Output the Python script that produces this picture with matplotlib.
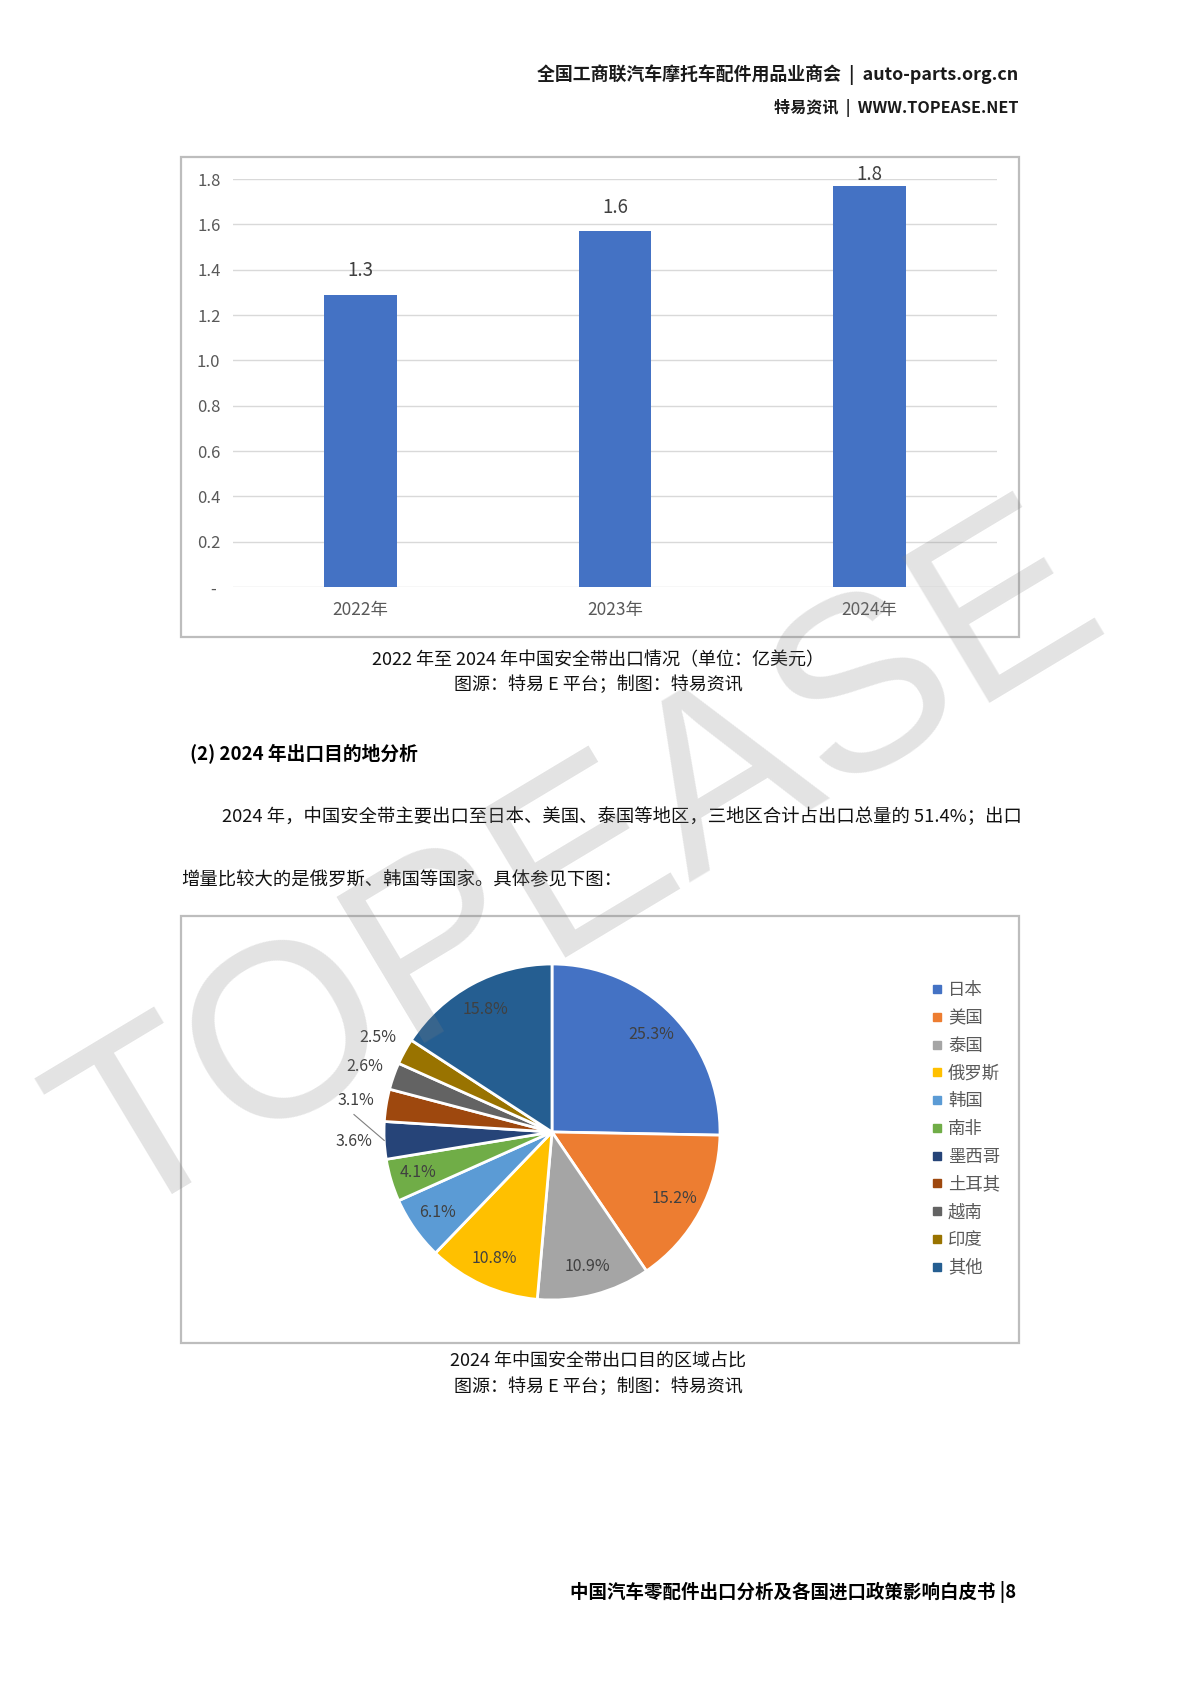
import numpy as np
import matplotlib.pyplot as plt
from matplotlib.patches import Rectangle
from matplotlib.lines import Line2D
from matplotlib.ticker import FuncFormatter

plt.rcParams['font.family'] = ['Noto Sans CJK SC', 'DejaVu Sans']

# - - - - bar chart data (亿美元) - - -
years = ['2022年', '2023年', '2024年']
export_value = [1.29, 1.57, 1.77]
value_labels = ['1.3', '1.6', '1.8']
y_ticks = [0, 0.2, 0.4, 0.6, 0.8, 1.0, 1.2, 1.4, 1.6, 1.8]

# - - - - pie chart data (%) - - -
regions = ['日本', '美国', '泰国', '俄罗斯', '韩国', '南非', '墨西哥', '土耳其', '越南', '印度', '其他']
shares = [25.3, 15.2, 10.9, 10.8, 6.1, 4.1, 3.6, 3.1, 2.6, 2.5, 15.8]
colors = ['#4472C4', '#ED7D31', '#A5A5A5', '#FFC000', '#5B9BD5', '#70AD47',
          '#264478', '#9E480E', '#636363', '#997300', '#255E91']
outside = ['墨西哥', '土耳其', '越南', '印度']
leader = ['墨西哥']

W, H = 1200, 1698


def box(x0, y0, x1, y1):
    # pixel box (top-left origin) -> figure fraction rect
    return [x0 / W, 1 - y1 / H, (x1 - x0) / W, (y1 - y0) / H]


def ptext(fig, x, y, s, **kw):
    fig.text(x / W, 1 - y / H, s, **kw)


def frame(fig, x0, y0, x1, y1):
    r = box(x0, y0, x1, y1)
    fig.add_artist(Rectangle((r[0], r[1]), r[2], r[3], transform=fig.transFigure,
                             fill=False, ec='#bdbdbd', lw=1.6))


def main():
    fig = plt.figure(figsize=(W / 100, H / 100), dpi=100)
    fig.patch.set_facecolor('white')

    # header
    ptext(fig, 1018, 75, '全国工商联汽车摩托车配件用品业商会  |  auto-parts.org.cn',
          ha='right', va='center', fontsize=12.9, color='#1a1a1a', weight='bold')
    ptext(fig, 1018, 108, '特易资讯  |  WWW.TOPEASE.NET',
          ha='right', va='center', fontsize=11.6, color='#1a1a1a', weight='bold')

    # bar chart
    frame(fig, 181, 157, 1019, 637)
    ax = fig.add_axes(box(233, 179, 997, 587))
    x = np.arange(len(years))
    ax.bar(x, export_value, width=0.285, color='#4472C4', zorder=2)
    for i, v in enumerate(export_value):
        ax.text(i, min(v + 0.105, 1.82), value_labels[i], ha='center', va='center',
                fontsize=13.5, color='#404040')
    ax.set_xlim(-0.5, 2.5)
    ax.set_ylim(0, 1.8)
    ax.set_xticks(x)
    ax.set_xticklabels(years)
    ax.set_yticks(y_ticks)
    ax.yaxis.set_major_formatter(FuncFormatter(lambda v, p: '- ' if v == 0 else '%.1f' % v))
    ax.yaxis.grid(True, color='#d9d9d9', lw=1)
    ax.set_axisbelow(True)
    for s in ax.spines.values():
        s.set_visible(False)
    ax.tick_params(axis='x', length=0, pad=10, labelsize=12.5, labelcolor='#595959')
    ax.tick_params(axis='y', length=0, pad=9, labelsize=12, labelcolor='#595959')

    ptext(fig, 598, 660, '2022 年至 2024 年中国安全带出口情况（单位：亿美元）',
          ha='center', va='center', fontsize=13, color='#111111')
    ptext(fig, 598, 685, '图源：特易 E 平台；制图：特易资讯',
          ha='center', va='center', fontsize=13, color='#111111')

    # section text
    ptext(fig, 190, 754, '(2) 2024 年出口目的地分析', ha='left', va='center',
          fontsize=13.5, weight='bold', color='#000000')
    ptext(fig, 222, 817, '2024 年，中国安全带主要出口至日本、美国、泰国等地区，三地区合计占出口总量的 51.4%；出口',
          ha='left', va='center', fontsize=13.2, color='#111111')
    ptext(fig, 181, 880, '增量比较大的是俄罗斯、韩国等国家。具体参见下图：',
          ha='left', va='center', fontsize=13.2, color='#111111')

    # pie chart
    frame(fig, 181, 916, 1019, 1343)
    ax2 = fig.add_axes(box(352, 932, 752, 1332))
    wedges, _ = ax2.pie(shares, colors=colors, startangle=90, counterclock=False,
                        wedgeprops=dict(edgecolor='white', linewidth=2))
    R = 200 / 168
    ax2.set_xlim(-R, R)
    ax2.set_ylim(-R, R)
    ax2.set_aspect('equal')
    ax2.axis('off')
    for w, name, s in zip(wedges, regions, shares):
        mid = np.deg2rad((w.theta1 + w.theta2) / 2)
        r = 1.18 if name in outside else 0.83
        ax2.text(r * np.cos(mid), r * np.sin(mid), '%.1f%%' % s, ha='center', va='center',
                 fontsize=11.5, color='#404040')
        if name in leader:
            end = mid - np.deg2rad(5.5)
            ax2.plot([np.cos(mid), 1.18 * np.cos(end)], [np.sin(mid), 1.18 * np.sin(end) + 0.05],
                     color='#7f7f7f', lw=0.8)

    handles = [Line2D([], [], marker='s', ls='', color=c, markersize=6) for c in colors]
    fig.legend(handles, regions, loc='center left', bbox_to_anchor=(933 / W, 1 - 1129 / H),
               frameon=False, fontsize=12.5, handlelength=0.5, handletextpad=0.36,
               labelspacing=0.56, borderpad=0, borderaxespad=0, labelcolor='#595959')

    ptext(fig, 598, 1362, '2024 年中国安全带出口目的区域占比',
          ha='center', va='center', fontsize=13, color='#111111')
    ptext(fig, 598, 1387, '图源：特易 E 平台；制图：特易资讯',
          ha='center', va='center', fontsize=13, color='#111111')

    # footer
    ptext(fig, 1016, 1592, '中国汽车零配件出口分析及各国进口政策影响白皮书 |8',
          ha='right', va='center', fontsize=13.3, weight='bold', color='#000000')

    # watermark
    fig.text(0.485, 0.488, 'TOPEASE', family='Liberation Sans', fontsize=178,
             rotation=31, rotation_mode='anchor', ha='center', va='center',
             color='#808080', alpha=0.22, zorder=10)

    fig.savefig('out.png', dpi=100)


if __name__ == '__main__':
    main()
